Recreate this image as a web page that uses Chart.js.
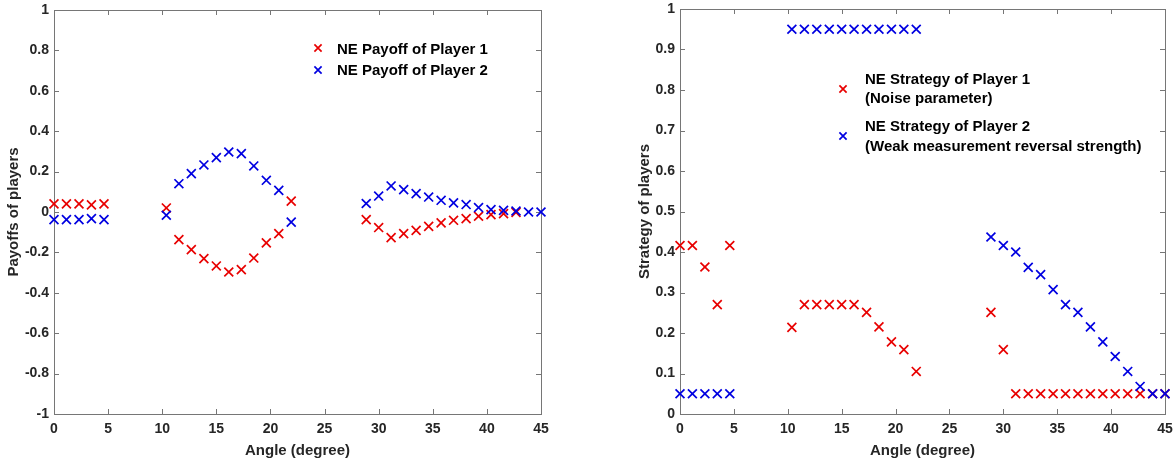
<!DOCTYPE html>
<html>
<head>
<meta charset="utf-8">
<script src="https://cdn.jsdelivr.net/npm/chart.js@4.4.1/dist/chart.umd.min.js"></script>
<style>
    html, body { margin: 0; padding: 0; background: #fff; }
    #esq { position: absolute; left: 0; top: 0; width: 585px; height: 465px; }
    #dir { position: absolute; left: 585px; top: 0; width: 590px; height: 465px; }
</style>
</head>
<body>
<div id="esq"><canvas id="payoff"></canvas></div>
<div id="dir"><canvas id="estrategia"></canvas></div>
<script>
var angulos = [0, 1.15, 2.31, 3.46, 4.62,
    10.38, 11.54, 12.69, 13.85, 15, 16.15, 17.31, 18.46, 19.62, 20.77, 21.92,
    28.85, 30, 31.15, 32.31, 33.46, 34.62, 35.77, 36.92, 38.08, 39.23, 40.38, 41.54, 42.69, 43.85, 45];

// grafico da esquerda - payoffs
var payoff1 = [0.04, 0.04, 0.04, 0.035, 0.04,
    0.02, -0.137, -0.186, -0.231, -0.267, -0.297, -0.285, -0.228, -0.153, -0.107, 0.054,
    -0.038, -0.077, -0.127, -0.107, -0.091, -0.071, -0.054, -0.041, -0.033, -0.021, -0.013, -0.008, -0.002, null, null];
var payoff2 = [-0.038, -0.038, -0.038, -0.033, -0.038,
    -0.016, 0.14, 0.19, 0.233, 0.269, 0.297, 0.289, 0.228, 0.157, 0.107, -0.05,
    0.042, 0.079, 0.129, 0.111, 0.091, 0.074, 0.058, 0.045, 0.037, 0.022, 0.012, 0.008, 0.005, 0, 0];

// grafico da direita - estrategias
var estrategia1 = [0.416, 0.416, 0.363, 0.27, 0.416,
    0.214, 0.27, 0.27, 0.27, 0.27, 0.27, 0.251, 0.215, 0.178, 0.159, 0.105,
    0.251, 0.159, 0.05, 0.05, 0.05, 0.05, 0.05, 0.05, 0.05, 0.05, 0.05, 0.05, 0.05, 0.05, 0.05];
var estrategia2 = [0.05, 0.05, 0.05, 0.05, 0.05,
    0.95, 0.95, 0.95, 0.95, 0.95, 0.95, 0.95, 0.95, 0.95, 0.95, 0.95,
    0.437, 0.416, 0.4, 0.362, 0.344, 0.307, 0.27, 0.251, 0.215, 0.178, 0.142, 0.105, 0.068, 0.05, 0.05];

// ticks
var xTicks = [0, 5, 10, 15, 20, 25, 30, 35, 40, 45];
var yTicksPayoff = [-1, -0.8, -0.6, -0.4, -0.2, 0, 0.2, 0.4, 0.6, 0.8, 1];
var yTicksEstrategia = [0, 0.1, 0.2, 0.3, 0.4, 0.5, 0.6, 0.7, 0.8, 0.9, 1];

var vermelho = 'rgb(232,0,0)';
var azul = 'rgb(0,0,225)';
var fonte = 'Liberation Sans, Arial, sans-serif';

function pontos(lista) {
    var r = [];
    for (var i = 0; i < lista.length; i++) {
        if (lista[i] !== null) r.push({ x: angulos[i], y: lista[i] });
    }
    return r;
}

function desenhaX(ctx, x, y, r, cor) {
    ctx.strokeStyle = cor;
    ctx.lineWidth = 1.7;
    ctx.beginPath();
    ctx.moveTo(x - r, y - r); ctx.lineTo(x + r, y + r);
    ctx.moveTo(x - r, y + r); ctx.lineTo(x + r, y - r);
    ctx.stroke();
}

// caixa em volta + ticks para dentro (estilo matlab)
var moldura = {
    id: 'moldura',
    beforeDatasetsDraw(chart) {
        var ctx = chart.ctx, a = chart.chartArea;
        var sx = chart.scales.x, sy = chart.scales.y;
        ctx.save();
        ctx.strokeStyle = '#767676';
        ctx.lineWidth = 1;
        ctx.strokeRect(Math.round(a.left) + 0.5, Math.round(a.top) + 0.5,
            Math.round(a.right - a.left), Math.round(a.bottom - a.top));
        ctx.beginPath();
        sx.ticks.forEach(function (t) {
            var px = Math.round(sx.getPixelForValue(t.value)) + 0.5;
            ctx.moveTo(px, a.bottom); ctx.lineTo(px, a.bottom - 5);
            ctx.moveTo(px, a.top); ctx.lineTo(px, a.top + 5);
        });
        sy.ticks.forEach(function (t) {
            var py = Math.round(sy.getPixelForValue(t.value)) + 0.5;
            ctx.moveTo(a.left, py); ctx.lineTo(a.left + 5, py);
            ctx.moveTo(a.right, py); ctx.lineTo(a.right - 5, py);
        });
        ctx.stroke();
        ctx.restore();
    },
    afterDraw(chart) {
        var leg = chart.options.plugins.moldura;
        if (!leg) return;
        var ctx = chart.ctx, a = chart.chartArea;
        ctx.save();
        ctx.font = 'bold 15px ' + fonte;
        ctx.fillStyle = '#000';
        ctx.textBaseline = 'middle';
        leg.itens.forEach(function (it) {
            desenhaX(ctx, a.left + leg.mx, a.top + it.my, 3.6, it.cor);
            for (var j = 0; j < it.linhas.length; j++) {
                ctx.fillText(it.linhas[j], a.left + leg.tx, a.top + it.ty[j]);
            }
        });
        ctx.restore();
    }
};

function escalas(yTicks, tituloY, larguraY, padTitulo) {
    return {
        x: {
            type: 'linear', min: 0, max: 45,
            grid: { display: false, drawTicks: false },
            border: { display: false },
            ticks: { padding: 7, color: '#262626', font: { family: fonte, size: 14, weight: 'bold' }, maxRotation: 0, autoSkip: false },
            title: { display: true, text: 'Angle (degree)', color: '#262626', font: { family: fonte, size: 15, weight: 'bold' }, padding: { top: 0, bottom: 5 } },
            afterBuildTicks: function (s) { s.ticks = xTicks.map(function (v) { return { value: v }; }); },
            afterFit: function (s) { s.height = 51; s.paddingLeft = 0; s.paddingRight = 0; }
        },
        y: {
            type: 'linear', min: yTicks[0], max: yTicks[yTicks.length - 1],
            grid: { display: false, drawTicks: false },
            border: { display: false },
            ticks: {
                padding: 5, color: '#262626', font: { family: fonte, size: 14, weight: 'bold' }, autoSkip: false,
                callback: function (v) { return String(+v.toFixed(1)); }
            },
            title: { display: true, text: tituloY, color: '#262626', font: { family: fonte, size: 15, weight: 'bold' }, padding: { top: padTitulo, bottom: 0 } },
            afterBuildTicks: function (s) { s.ticks = yTicks.map(function (v) { return { value: v }; }); },
            afterFit: function (s) { s.width = larguraY; s.paddingTop = 0; s.paddingBottom = 0; }
        }
    };
}

function serie(lista, cor, ordem) {
    return {
        data: pontos(lista),
        pointStyle: 'crossRot',
        pointRadius: 6.3,
        pointHoverRadius: 6.3,
        pointBorderWidth: 1.7,
        borderColor: cor,
        backgroundColor: cor,
        showLine: false,
        clip: false,
        order: ordem
    };
}

var graficoPayoff = new Chart(document.getElementById('payoff'), {
    type: 'scatter',
    data: { datasets: [serie(payoff1, vermelho, 1), serie(payoff2, azul, 0)] },
    options: {
        responsive: true, maintainAspectRatio: false, animation: false,
        layout: { padding: { top: 10, right: 44, left: 0, bottom: 0 } },
        scales: escalas(yTicksPayoff, 'Payoffs of players', 54, 5),
        plugins: {
            legend: { display: false }, tooltip: { enabled: false },
            moldura: {
                mx: 264, tx: 283,
                itens: [
                    { cor: vermelho, my: 38, linhas: ['NE Payoff of Player 1'], ty: [40] },
                    { cor: azul, my: 60, linhas: ['NE Payoff of Player 2'], ty: [61] }
                ]
            }
        }
    },
    plugins: [moldura]
});

var graficoEstrategia = new Chart(document.getElementById('estrategia'), {
    type: 'scatter',
    data: { datasets: [serie(estrategia1, vermelho, 1), serie(estrategia2, azul, 0)] },
    options: {
        responsive: true, maintainAspectRatio: false, animation: false,
        layout: { padding: { top: 9, right: 10, left: 0, bottom: 0 } },
        scales: escalas(yTicksEstrategia, 'Strategy of players', 95, 51),
        plugins: {
            legend: { display: false }, tooltip: { enabled: false },
            moldura: {
                mx: 163, tx: 185,
                itens: [
                    { cor: vermelho, my: 80, linhas: ['NE Strategy of Player 1', '(Noise parameter)'], ty: [71, 90] },
                    { cor: azul, my: 127, linhas: ['NE Strategy of Player 2', '(Weak measurement reversal strength)'], ty: [118, 138] }
                ]
            }
        }
    },
    plugins: [moldura]
});
</script>
</body>
</html>
